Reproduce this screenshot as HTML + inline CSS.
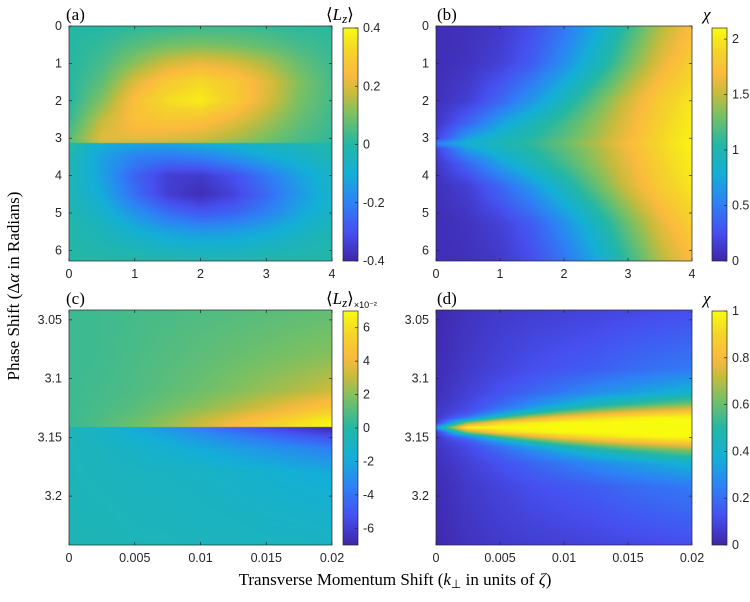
<!DOCTYPE html>
<html><head><meta charset="utf-8"><style>
body{margin:0;background:#fff;width:750px;height:602px;overflow:hidden;position:relative}
canvas{position:absolute}
svg{position:absolute;left:0;top:0}
text{font-family:"Liberation Sans",sans-serif;font-size:12.5px;fill:#262626}
text.serif{font-family:"Liberation Serif",serif;fill:#000;font-size:17px}
</style></head><body>
<canvas id="ca"></canvas>
<canvas id="cb"></canvas>
<canvas id="cc"></canvas>
<canvas id="cd"></canvas>
<svg id="s" width="750" height="602">
<text class="serif" x="66" y="20">(a)</text>
<text class="serif" x="437" y="20">(b)</text>
<text class="serif" x="66" y="304">(c)</text>
<text class="serif" x="437" y="304">(d)</text>
<text class="serif" x="326" y="20">⟨<tspan font-style="italic">L</tspan><tspan font-style="italic" style="font-size:13px" dy="3">z</tspan><tspan dy="-3">⟩</tspan></text>
<text class="serif" x="703" y="20" font-style="italic">χ</text>
<text class="serif" x="326" y="304">⟨<tspan font-style="italic">L</tspan><tspan font-style="italic" style="font-size:13px" dy="3">z</tspan><tspan dy="-3">⟩</tspan><tspan style="font-size:9px;font-family:'Liberation Sans'" dy="4">×10⁻²</tspan></text>
<text class="serif" x="703" y="304" font-style="italic">χ</text>
<text class="serif" x="395" y="585" text-anchor="middle">Transverse Momentum Shift (<tspan font-style="italic">k</tspan><tspan style="font-size:12px" dy="3">⊥</tspan><tspan dy="-3"> in units of </tspan><tspan font-style="italic">ζ</tspan>)</text>
<text class="serif" transform="translate(19,286) rotate(-90)" text-anchor="middle">Phase Shift (Δ<tspan font-style="italic">α</tspan> in Radians)</text>
</svg>
<script>
const PI=Math.PI;
// Panel (a) <Lz>
const aX=[0,0.5,1,1.5,2,2.5,3,3.5,4];
const aYUp=[0,0.5,1,1.5,2,2.5,3.0,PI];
const aZUp=[
[0.0,0.0,0.01,0.02,0.03,0.03,0.02,0.01,0.01],
[0.0,0.02,0.06,0.09,0.10,0.09,0.07,0.04,0.02],
[0.0,0.04,0.12,0.19,0.22,0.20,0.15,0.08,0.03],
[0.0,0.07,0.20,0.29,0.33,0.29,0.21,0.11,0.04],
[0.0,0.11,0.26,0.34,0.37,0.30,0.20,0.10,0.04],
[0.02,0.17,0.26,0.28,0.27,0.22,0.15,0.08,0.03],
[0.06,0.21,0.22,0.21,0.19,0.15,0.10,0.05,0.02],
[0.05,0.18,0.18,0.17,0.15,0.12,0.08,0.04,0.01]];
const aYLo=[PI,3.5,4,4.5,5,5.5,6,2*PI];
const aZLo=[
[0.0,-0.10,-0.12,-0.12,-0.10,-0.08,-0.05,-0.03,-0.01],
[-0.02,-0.13,-0.20,-0.22,-0.20,-0.16,-0.11,-0.07,-0.03],
[-0.03,-0.13,-0.26,-0.34,-0.35,-0.30,-0.22,-0.13,-0.06],
[-0.03,-0.11,-0.24,-0.34,-0.38,-0.33,-0.25,-0.15,-0.07],
[-0.02,-0.07,-0.16,-0.24,-0.28,-0.26,-0.20,-0.12,-0.06],
[-0.01,-0.04,-0.09,-0.13,-0.15,-0.14,-0.11,-0.07,-0.03],
[0.0,-0.02,-0.03,-0.05,-0.06,-0.06,-0.04,-0.03,-0.01],
[0.0,0.0,-0.01,-0.01,-0.02,-0.02,-0.01,-0.01,0.0]];
// Panel (b) chi (upper half, mirrored about pi)
const bX=[0,0.5,1,1.5,2,2.5,3,3.5,4];
const bY=[0,1,2,2.6,3.0,PI];
const bZ=[
[0.05,0.07,0.12,0.25,0.45,0.75,1.10,1.45,1.70],
[0.05,0.09,0.17,0.33,0.60,0.92,1.28,1.60,1.85],
[0.07,0.16,0.38,0.65,0.95,1.25,1.55,1.82,2.00],
[0.10,0.38,0.70,0.95,1.15,1.38,1.62,1.87,2.03],
[0.18,0.70,0.90,1.05,1.22,1.42,1.66,1.90,2.05],
[0.55,0.85,0.95,1.10,1.27,1.47,1.70,1.92,2.07]];
// Panel (c) <Lz> x1e-2
const cX=[0,0.0025,0.005,0.0075,0.01,0.0125,0.015,0.0175,0.02];
const cYUp=[3.0416,3.08,3.11,3.125,3.135,PI];
const cZUp=[
[0.5,0.6,0.7,0.8,0.9,1.0,1.1,1.2,1.3],
[0.5,0.6,0.8,1.0,1.2,1.4,1.6,1.8,2.0],
[0.5,0.7,0.9,1.2,1.5,1.9,2.3,2.7,3.2],
[0.5,0.8,1.1,1.6,2.1,2.7,3.4,4.2,5.0],
[0.5,0.9,1.4,2.1,2.9,3.8,4.8,5.8,6.6],
[0.5,1.0,1.6,2.4,3.3,4.3,5.4,6.3,7.0]];
const cYLo=[PI,3.148,3.16,3.18,3.2416];
const cZLo=[
[-0.7,-1.2,-2.0,-2.8,-3.7,-4.6,-5.5,-6.3,-7.0],
[-0.7,-1.1,-1.6,-2.2,-2.9,-3.6,-4.3,-5.0,-5.6],
[-0.7,-0.9,-1.2,-1.5,-1.9,-2.3,-2.7,-3.1,-3.5],
[-0.7,-0.8,-0.9,-1.0,-1.1,-1.3,-1.5,-1.7,-1.9],
[-0.6,-0.6,-0.7,-0.7,-0.8,-0.8,-0.9,-0.9,-1.0]];
// Panel (d) chi, rows by distance from pi
const dX=[0,0.0025,0.005,0.0075,0.01,0.0125,0.015,0.0175,0.02];
const dD=[0,0.004,0.008,0.012,0.016,0.02,0.03,0.05,0.1];
const dZ=[
[0.30,1.00,1.00,1.00,1.00,1.00,1.00,1.00,1.00],
[0.05,0.65,0.90,0.97,1.00,1.00,1.00,1.00,1.00],
[0.05,0.25,0.55,0.75,0.87,0.93,0.97,1.00,1.00],
[0.05,0.14,0.32,0.50,0.65,0.75,0.82,0.87,0.90],
[0.05,0.11,0.22,0.34,0.47,0.57,0.65,0.71,0.76],
[0.04,0.10,0.18,0.27,0.36,0.44,0.51,0.57,0.62],
[0.03,0.08,0.13,0.18,0.23,0.28,0.32,0.36,0.40],
[0.02,0.06,0.09,0.12,0.14,0.16,0.19,0.21,0.23],
[0.01,0.04,0.06,0.07,0.08,0.09,0.10,0.11,0.12]];
// tick labels
const aXTicks=[0,1,2,3,4], aYTicks=[0,1,2,3,4,5,6];
const cXTicks=[0,0.005,0.01,0.015,0.02], cYTicks=[3.05,3.1,3.15,3.2];
const cbATicks=[-0.4,-0.2,0,0.2,0.4], cbBTicks=[0,0.5,1,1.5,2];
const cbCTicks=[-6,-4,-2,0,2,4,6], cbDTicks=[0,0.2,0.4,0.6,0.8,1];

const P=[[0,62,38,168],[0.125,70,80,240],[0.25,45,130,245],[0.375,20,175,215],[0.5,35,183,165],[0.625,120,192,100],[0.72,200,187,60],[0.8,250,186,62],[0.9,245,212,42],[1,249,251,14]];
function cmap(t){t=Math.max(0,Math.min(1,t));for(let i=1;i<P.length;i++){if(t<=P[i][0]){const a=P[i-1],b=P[i],f=(t-a[0])/(b[0]-a[0]);return [a[1]+f*(b[1]-a[1]),a[2]+f*(b[2]-a[2]),a[3]+f*(b[3]-a[3])];}}return P[P.length-1].slice(1);}
function idx(arr,v){for(let i=0;i<arr.length-1;i++){if(v<=arr[i+1])return i;}return arr.length-2;}
function interp(xs,ys,Z,x,y){const i=idx(xs,x),j=idx(ys,y);const fx=Math.max(0,Math.min(1,(x-xs[i])/(xs[i+1]-xs[i]))),fy=Math.max(0,Math.min(1,(y-ys[j])/(ys[j+1]-ys[j])));
return (Z[j][i]*(1-fx)+Z[j][i+1]*fx)*(1-fy)+(Z[j+1][i]*(1-fx)+Z[j+1][i+1]*fx)*fy;}
function panel(id,L,T,W,H,x0,x1,y0,y1,vmin,vmax,valf){
 const c=document.getElementById(id);c.width=W;c.height=H;c.style.left=L+'px';c.style.top=T+'px';
 const ctx=c.getContext('2d'),im=ctx.createImageData(W,H);
 for(let py=0;py<H;py++){const y=y0+(py+0.5)/H*(y1-y0);
  for(let px=0;px<W;px++){const x=x0+(px+0.5)/W*(x1-x0);const v=valf(x,y);const col=cmap((v-vmin)/(vmax-vmin));const k=(py*W+px)*4;im.data[k]=col[0];im.data[k+1]=col[1];im.data[k+2]=col[2];im.data[k+3]=255;}}
 ctx.putImageData(im,0,0);}
panel('ca',69,26,263,235,0,4,0,2*PI,-0.4,0.4,(x,y)=>y<PI?interp(aX,aYUp,aZUp,x,y):interp(aX,aYLo,aZLo,x,y));
panel('cb',436,26,256,235,0,4,0,2*PI,0,2.1,(x,y)=>interp(bX,bY,bZ,x,y<PI?y:2*PI-y));
panel('cc',69,310,263,235,0,0.02,3.0416,3.2416,-7,7,(x,y)=>y<PI?interp(cX,cYUp,cZUp,x,y):interp(cX,cYLo,cZLo,x,y));
panel('cd',436,310,256,235,0,0.02,3.0416,3.2416,0,1,(x,y)=>interp(dX,dD,dZ,x,Math.min(0.1,Math.abs(y-PI))));

const S=document.getElementById('s'),NS='http://www.w3.org/2000/svg';
function el(t,a,txt){const e=document.createElementNS(NS,t);for(const k in a)e.setAttribute(k,a[k]);if(txt!==undefined)e.textContent=txt;S.appendChild(e);return e;}
function axes(nm,L,T,W,H,x0,x1,y0,y1,xt,yt){
 const r=el('rect',{x:L,y:T,width:W,height:H,fill:'none',stroke:'#262626','stroke-width':0.7});
 
 
 xt.forEach(v=>{const x=L+(v-x0)/(x1-x0)*W;
  el('line',{x1:x,y1:T+H,x2:x,y2:T+H-3,stroke:'#262626','stroke-width':0.7});
  el('line',{x1:x,y1:T,x2:x,y2:T+3,stroke:'#262626','stroke-width':0.7});
  const t=el('text',{x:x,y:T+H+17,'text-anchor':'middle'},String(v));
  
  });
 yt.forEach(v=>{const y=T+(v-y0)/(y1-y0)*H;
  el('line',{x1:L,y1:y,x2:L+3,y2:y,stroke:'#262626','stroke-width':0.7});
  el('line',{x1:L+W,y1:y,x2:L+W-3,y2:y,stroke:'#262626','stroke-width':0.7});
  const t=el('text',{x:L-7,y:y+4,'text-anchor':'end'},String(v));
  
  });}
axes('panel-a',69,26,263,235,0,4,0,2*PI,aXTicks,aYTicks);
axes('panel-b',436,26,256,235,0,4,0,2*PI,aXTicks,aYTicks);
axes('panel-c',69,310,263,235,0,0.02,3.0416,3.2416,cXTicks,cYTicks);
axes('panel-d',436,310,256,235,0,0.02,3.0416,3.2416,cXTicks,cYTicks);
let gid=0;
function cbar(nm,L,T,W,H,vmin,vmax,ticks){
 const g='g'+(gid++);const d=el('defs',{});const lg=document.createElementNS(NS,'linearGradient');lg.setAttribute('id',g);lg.setAttribute('x1','0');lg.setAttribute('y1','1');lg.setAttribute('x2','0');lg.setAttribute('y2','0');
 P.forEach(p=>{const s=document.createElementNS(NS,'stop');s.setAttribute('offset',p[0]);s.setAttribute('stop-color','rgb('+p[1]+','+p[2]+','+p[3]+')');lg.appendChild(s);});d.appendChild(lg);
 const r=el('rect',{x:L,y:T,width:W,height:H,fill:'url(#'+g+')',stroke:'#262626','stroke-width':0.7});
 
 
 ticks.forEach(v=>{const y=T+H-(v-vmin)/(vmax-vmin)*H;
  el('line',{x1:L+W,y1:y,x2:L+W-3,y2:y,stroke:'#262626','stroke-width':0.7});
  const t=el('text',{x:L+W+5,y:y+4},String(v));
  
  });}
cbar('colorbar-a',343,28,15,233,-0.4,0.4,cbATicks);
cbar('colorbar-b',712,28,15,233,0,2.1,cbBTicks);
cbar('colorbar-c',343,311,15,234,-7,7,cbCTicks);
cbar('colorbar-d',712,311,15,234,0,1,cbDTicks);
</script>
</body></html>
